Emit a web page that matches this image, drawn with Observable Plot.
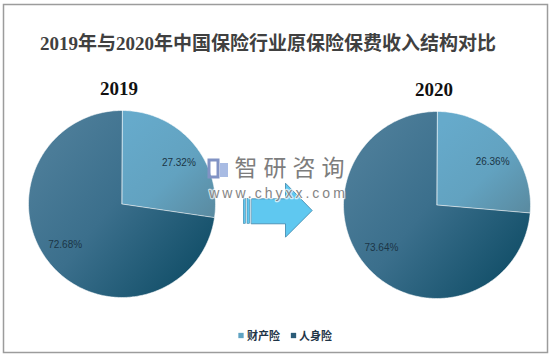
<!DOCTYPE html>
<html>
<head>
<meta charset="utf-8">
<script src="https://cdn.jsdelivr.net/npm/d3@7"></script>
<script src="https://cdn.jsdelivr.net/npm/@observablehq/plot@0.6"></script>
<style>
  html, body { margin: 0; padding: 0; background: #fff; }
  #chart svg { display: block; }
</style>
</head>
<body>
<div id="chart"></div>
<script>
// ---- data ----
const title = "2019年与2020年中国保险行业原保险保费收入结构对比";
const years = ["2019", "2020"];
const categories = ["财产险", "人身险"];
const shares2019 = [27.32, 72.68];
const shares2020 = [26.36, 73.64];
const watermarkName = "智研咨询";
const watermarkUrl = "www.chyxx.com";

// ---- layout ----
const W = 553, H = 359;
const R = 93.5;
const pieCenters = [{cx: 121.5, cy: 203.5}, {cx: 436.5, cy: 204.5}];
const sharesByYear = [shares2019, shares2020];
const gradIds = ["g-prop", "g-life"];
const legendColors = ["#5fa3c3", "#2b5b77"];

const slices = [];
const labels = [];
years.forEach((yr, i) => {
  const {cx, cy} = pieCenters[i];
  let cum = 0;
  sharesByYear[i].forEach((v, j) => {
    const a0 = cum / 100 * 2 * Math.PI;
    const a1 = (cum + v) / 100 * 2 * Math.PI;
    const n = Math.max(2, Math.ceil((a1 - a0) / (Math.PI / 180)));
    const pts = [{x: cx, y: cy}];
    for (let k = 0; k <= n; k++) {
      const a = a0 + (a1 - a0) * k / n;
      pts.push({x: cx + R * Math.sin(a), y: cy - R * Math.cos(a)});
    }
    slices.push({pts, fill: `url(#${gradIds[j]})`});
    const am = (a0 + a1) / 2 + 5 * Math.PI / 180;
    labels.push({x: cx + 0.75 * R * Math.sin(am), y: cy - 0.75 * R * Math.cos(am), text: v.toFixed(2) + "%"});
    cum += v;
  });
});

const arrowShaft = [
  {x: 251, y: 198.3}, {x: 285, y: 198.3}, {x: 285, y: 182.7}, {x: 311.7, y: 210},
  {x: 285, y: 236.7}, {x: 285, y: 223.3}, {x: 251, y: 223.3}
];
const arrowBars = [{x1: 243.3, x2: 245.3}, {x1: 247, x2: 249.5}];

const marks = [
  Plot.frame({stroke: "#9c9c9c", strokeWidth: 1.5, insetLeft: 3, insetTop: 4, insetRight: 6, insetBottom: 7}),
  ...slices.map(s => Plot.line(s.pts, {x: "x", y: "y", curve: "linear-closed", fill: s.fill, stroke: "#ffffff", strokeWidth: 0.7, strokeOpacity: 0.8})),
  Plot.text(labels, {x: "x", y: "y", text: "text", fontSize: 10, fill: "#1b3546", fontFamily: "Liberation Sans, Arial, sans-serif"}),
  // arrow
  Plot.line(arrowShaft, {x: "x", y: "y", curve: "linear-closed", fill: "#5fc8f0", stroke: "#3b84a8", strokeWidth: 0.8}),
  Plot.rect(arrowBars, {x1: "x1", x2: "x2", y1: 198.3, y2: 223.3, fill: "#5fc8f0", stroke: "#3b84a8", strokeWidth: 0.6}),
  // watermark icon
  Plot.rect([{x1: 209, x2: 218, y1: 160, y2: 177}], {x1: "x1", x2: "x2", y1: "y1", y2: "y2", fill: "none", stroke: "#8193c4", strokeWidth: 3}),
  Plot.rect([{x1: 220, x2: 228, y1: 163, y2: 177}], {x1: "x1", x2: "x2", y1: "y1", y2: "y2", fill: "#9fb4e0", fillOpacity: 0.9}),
  // watermark text
  Plot.text([watermarkName], {x: 292, y: 168, text: d => d, fontSize: 23, fill: "#7d7d7d", fontFamily: "Noto Sans CJK SC, sans-serif", stroke: "#ffffff", strokeWidth: 2.5, strokeOpacity: 0.7}),
  Plot.text([watermarkUrl], {x: 278, y: 193, text: d => d, fontSize: 14, fill: "#858585", fontFamily: "Liberation Sans, Arial, sans-serif", stroke: "#ffffff", strokeWidth: 2.5, strokeOpacity: 0.7}),
  // titles
  Plot.text([title], {x: 267.5, y: 43.5, text: d => d, fontSize: 19, fontWeight: "bold", fill: "#404040", fontFamily: "Liberation Serif, Noto Sans CJK SC, serif"}),
  Plot.text(years, {x: (d, i) => pieCenters[i].cx - 3, y: (d, i) => pieCenters[i].cy - 115, text: d => d, fontSize: 19, fontWeight: "bold", fill: "#111111", fontFamily: "Liberation Serif, serif"}),
  // legend
  Plot.dot(categories, {x: (d, i) => [240.5, 293][i], y: 335, symbol: "square", r: 3, fill: (d, i) => legendColors[i]}),
  Plot.text(categories, {x: (d, i) => [246.5, 298.5][i], y: 335.5, text: d => d, textAnchor: "start", fontSize: 11, fontWeight: "bold", fill: "#1f3547", fontFamily: "Noto Sans CJK SC, sans-serif"})
];

const svg = Plot.plot({
  width: W, height: H,
  margin: 0,
  x: {domain: [0, W], range: [0, W], axis: null},
  y: {domain: [0, H], range: [0, H], axis: null},
  color: {type: "identity"},
  style: {background: "#ffffff"},
  marks
});

const defs = d3.select(svg).insert("defs", ":first-child");
const gp = defs.append("linearGradient").attr("id", "g-prop").attr("x1", 0.15).attr("y1", 0.05).attr("x2", 0.95).attr("y2", 1);
gp.append("stop").attr("offset", 0).attr("stop-color", "#66aacb");
gp.append("stop").attr("offset", 0.55).attr("stop-color", "#62a2c0");
gp.append("stop").attr("offset", 1).attr("stop-color", "#5a8ba1");
const gl = defs.append("linearGradient").attr("id", "g-life").attr("x1", 0.1).attr("y1", 0.25).attr("x2", 0.85).attr("y2", 0.85);
gl.append("stop").attr("offset", 0).attr("stop-color", "#4b7c98");
gl.append("stop").attr("offset", 0.45).attr("stop-color", "#3b6f8c");
gl.append("stop").attr("offset", 1).attr("stop-color", "#16526c");

d3.select(svg).selectAll("text").filter(function() { return this.textContent === watermarkName; })
  .style("letter-spacing", "6px");
d3.select(svg).selectAll("text").filter(function() { return this.textContent === watermarkUrl; })
  .style("letter-spacing", "3px");

document.getElementById("chart").appendChild(svg);
</script>
</body>
</html>
